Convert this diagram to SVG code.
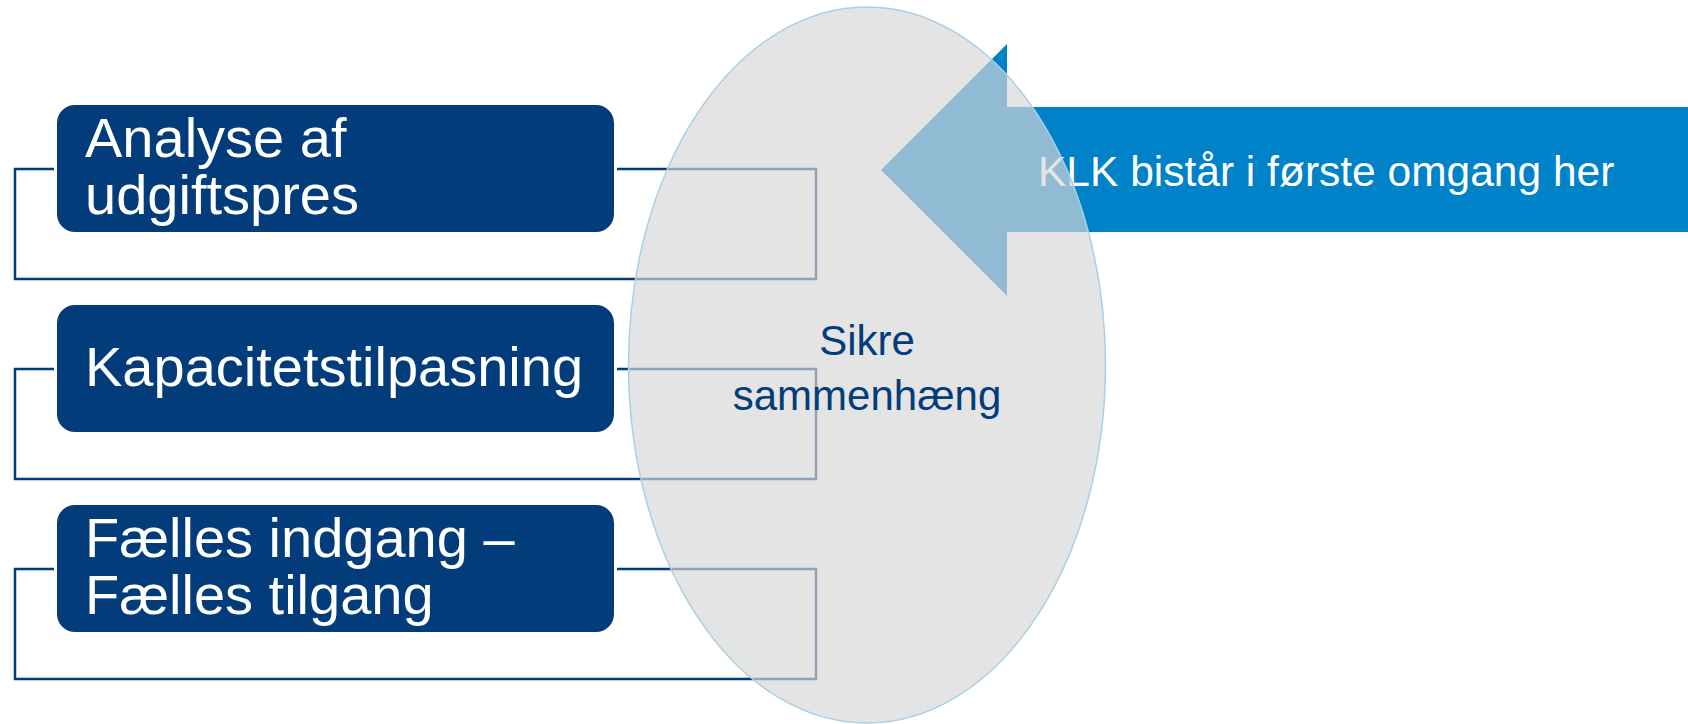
<svg xmlns="http://www.w3.org/2000/svg" width="1688" height="724" viewBox="0 0 1688 724">
  <style>
    .bracket { fill: none; stroke: #023c7a; stroke-width: 2.5; }
    .box { fill: #023c7a; }
    .box-label { font-family: "Liberation Sans", Arial, sans-serif; font-size: 56px; fill: #ffffff; }
    .arrow { fill: #0082c8; }
    .arrow-label { font-family: "Liberation Sans", Arial, sans-serif; font-size: 42.5px; fill: #ffffff; }
    .hub { fill: #d6d6d7; fill-opacity: 0.67; stroke: #a9d0e6; stroke-width: 1.5; }
    .hub-label { font-family: "Liberation Sans", Arial, sans-serif; font-size: 42px; fill: #023c7a; text-anchor: middle; }
  </style>

  <!-- bracket connectors behind each step -->
  <g id="connectors">
    <path class="bracket" d="M54 169 H15 V279 H816 V169 H617"/>
    <path class="bracket" d="M54 369 H15 V479 H816 V369 H617"/>
    <path class="bracket" d="M54 569 H15 V679 H816 V569 H617"/>
  </g>

  <g id="step-analyse">
    <rect class="box" x="57" y="105" width="557" height="127" rx="18"/>
    <text class="box-label" x="85" y="157">Analyse af</text>
    <text class="box-label" x="85" y="214">udgiftspres</text>
  </g>

  <g id="step-kapacitet">
    <rect class="box" x="57" y="305" width="557" height="127" rx="18"/>
    <text class="box-label" x="85" y="386">Kapacitetstilpasning</text>
  </g>

  <g id="step-indgang">
    <rect class="box" x="57" y="505" width="557" height="127" rx="18"/>
    <text class="box-label" x="85" y="557">Fælles indgang –</text>
    <text class="box-label" x="85" y="614">Fælles tilgang</text>
  </g>

  <g id="klk-arrow">
    <polygon class="arrow" points="881,170 1007,44 1007,107 1688,107 1688,232 1007,232 1007,296"/>
    <text class="arrow-label" x="1038" y="186">KLK bistår i første omgang her</text>
  </g>

  <!-- translucent hub laid over brackets and arrow -->
  <g id="hub">
    <ellipse class="hub" cx="867" cy="365" rx="238.5" ry="358"/>
    <text class="hub-label" x="867" y="355">Sikre</text>
    <text class="hub-label" x="867" y="410">sammenhæng</text>
  </g>
</svg>
